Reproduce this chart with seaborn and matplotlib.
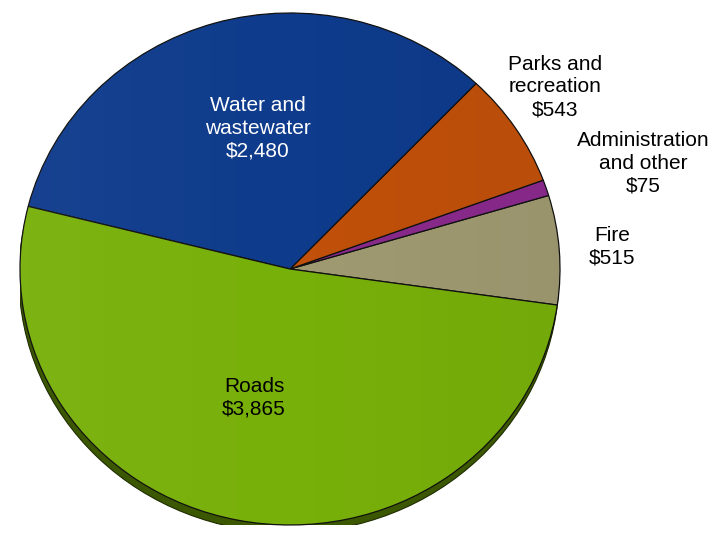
import numpy as np
import matplotlib
matplotlib.use("Agg")
import matplotlib.pyplot as plt
from matplotlib.patches import Ellipse, Circle
import seaborn as sns

# Capital costs by category (thousands of dollars), drawn counter-clockwise
categories = ["Fire", "Administration\nand other", "Parks and\nrecreation",
              "Water and\nwastewater", "Roads"]
values = [515, 75, 543, 2480, 3865]
value_labels = ["$515", "$75", "$543", "$2,480", "$3,865"]
colors = ["#a09a72", "#8a2a8c", "#c0500a", "#0f3b8c", "#78b00a"]

sns.set_theme(style="white")
plt.rcParams["font.family"] = ["Liberation Sans", "DejaVu Sans"]

W, H = 728, 539
fig = plt.figure(figsize=(W / 100, H / 100), dpi=100)
fig.patch.set_facecolor("white")

# pie occupies x 20..560 px, y 13..525 px (from top)
ax = fig.add_axes([20 / W, (H - 525) / H, 540 / W, 512 / H])
ax.set_xlim(-1, 1)
ax.set_ylim(-1, 1)

# dark rim beneath the disc
shadow = Ellipse((-0.004, -0.03), 2.0, 2.0, facecolor="#3b5800",
                 edgecolor="#1e2c00", lw=0.8, zorder=0)
ax.add_patch(shadow)

wedges, _ = ax.pie(values, colors=colors, startangle=-8.1, counterclock=True,
                   radius=1.0, center=(0, 0), frame=True,
                   wedgeprops=dict(edgecolor="#111111", linewidth=0.9))
for w in wedges:
    w.set_zorder(2)

# soft left-to-right shading across the disc
grad = np.linspace(0, 1, 256)[None, :]
shade = np.zeros((1, 256, 4))
shade[..., :3] = np.where(grad[..., None] < 0.5, 1.0, 0.0)
shade[..., 3] = np.abs(grad - 0.5) * 0.08
im = ax.imshow(shade, extent=(-1, 1, -1, 1), aspect="auto", zorder=3,
               interpolation="bilinear")
im.set_clip_path(Circle((0, 0), 1.0, transform=ax.transData))

ax.set_xlim(-1, 1)
ax.set_ylim(-1, 1)
ax.set_aspect("auto")
ax.axis("off")

# label positions in pixels (centre of text block)
label_pos = [(612, 247), (643, 163), (555, 87), (258, 128), (254, 398)]
label_color = ["black", "black", "black", "white", "black"]
for cat, val, (px, py), c in zip(categories, value_labels, label_pos, label_color):
    fig.text(px / W, 1 - py / H, f"{cat}\n{val}", ha="center", va="center",
             fontsize=15, color=c, linespacing=1.25)

fig.savefig("out.png", dpi=100, facecolor="white")
